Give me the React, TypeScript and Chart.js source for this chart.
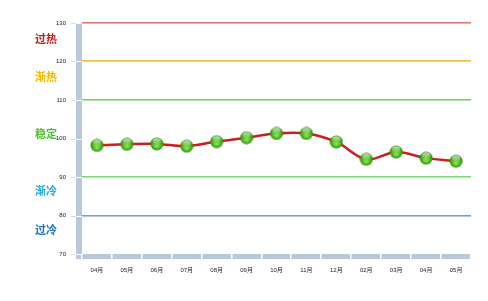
import React, { useEffect, useRef } from "react";
import { Chart, registerables } from "chart.js";

Chart.register(...registerables);

const categories = ["04月", "05月", "06月", "07月", "08月", "09月", "10月", "11月", "12月", "02月", "03月", "04月", "05月"];
const values = [98.2, 98.5, 98.6, 98.0, 99.2, 100.2, 101.3, 101.3, 99.1, 94.6, 96.5, 94.9, 94.1];

const yMin = 70;
const yMax = 130;
const yStep = 10;

const levelValues = [130, 120, 110, 90, 80];
const levelColors = ["#e07272", "#f7c041", "#6fd44f", "#7fd87a", "#5ea6e0"];
const levelUnderColors = ["#f0b0b0", "#f8c8b0", "#b0e8a0", "#a8e4f4", "#a8cce8"];

const zoneLabels = ["过热", "渐热", "稳定", "渐冷", "过冷"];
const zoneValues = [126, 116, 101.3, 86.3, 76.4];
const zoneColors = ["#d01818", "#f5b800", "#50c030", "#20a8e8", "#2070c0"];

function makeSphere(): HTMLCanvasElement {
  const c = document.createElement("canvas");
  c.width = 14;
  c.height = 14;
  const g = c.getContext("2d")!;
  const grad = g.createRadialGradient(7, 9, 0.5, 7, 7, 7);
  grad.addColorStop(0, "#8ee05a");
  grad.addColorStop(0.55, "#4cb81e");
  grad.addColorStop(1, "#2a8008");
  g.beginPath();
  g.arc(7, 7, 6.5, 0, Math.PI * 2);
  g.fillStyle = grad;
  g.fill();
  const hi = g.createLinearGradient(0, 1, 0, 7);
  hi.addColorStop(0, "rgba(255,255,255,0.75)");
  hi.addColorStop(1, "rgba(255,255,255,0.05)");
  g.beginPath();
  g.ellipse(7, 4.2, 4.2, 3, 0, 0, Math.PI * 2);
  g.fillStyle = hi;
  g.fill();
  return c;
}

const decorPlugin = {
  id: "decor",
  beforeDatasetsDraw(chart: any) {
    const { ctx, chartArea } = chart;
    const y = chart.scales.y;
    const bandColor = "#b9c9db";
    ctx.save();
    levelValues.forEach((v, i) => {
      const py = Math.round(y.getPixelForValue(v));
      ctx.fillStyle = levelColors[i];
      ctx.fillRect(chartArea.left, py - 1, chartArea.right - chartArea.left, 1);
      ctx.fillStyle = levelUnderColors[i];
      ctx.fillRect(chartArea.left, py, chartArea.right - chartArea.left, 1);
    });
    const bandL = chartArea.left - 6;
    const bottom = Math.round(y.getPixelForValue(yMin));
    ctx.fillStyle = bandColor;
    ctx.fillRect(bandL, chartArea.top, 6, bottom - chartArea.top + 5);
    ctx.fillRect(bandL, bottom, chartArea.right - bandL, 5);
    for (let v = yMin; v <= yMax; v += yStep) {
      const py = Math.round(y.getPixelForValue(v));
      ctx.fillStyle = "#d3dce8";
      ctx.fillRect(bandL - 5, py, 5, 1);
      ctx.fillStyle = "#ffffff";
      ctx.fillRect(bandL, py, 6, 1);
    }
    const n = categories.length;
    const w = (chartArea.right - chartArea.left) / n;
    ctx.fillStyle = "#ffffff";
    for (let i = 0; i <= n; i++) {
      const px = Math.round(chartArea.left + i * w);
      ctx.fillRect(px - 1, bottom, 1.5, 5);
    }
    ctx.font = "bold 11px 'Noto Sans CJK SC', sans-serif";
    ctx.textAlign = "center";
    ctx.textBaseline = "middle";
    zoneLabels.forEach((t, i) => {
      ctx.fillStyle = zoneColors[i];
      ctx.fillText(t, 46, y.getPixelForValue(zoneValues[i]));
    });
    ctx.restore();
  },
};

export default function App() {
  const ref = useRef<HTMLCanvasElement | null>(null);
  useEffect(() => {
    if (!ref.current) return;
    const sphere = makeSphere();
    const chart = new Chart(ref.current, {
      type: "line",
      data: {
        labels: categories,
        datasets: [
          {
            data: values,
            borderColor: "#c8201e",
            borderWidth: 2.5,
            tension: 0.35,
            pointStyle: sphere as any,
            pointRadius: 7,
            pointHoverRadius: 7,
          },
        ],
      },
      options: {
        animation: false,
        responsive: false,
        devicePixelRatio: 1,
        layout: { padding: { left: 0, right: 17, top: 23, bottom: 0 } },
        plugins: { legend: { display: false }, tooltip: { enabled: false } },
        scales: {
          x: {
            offset: true,
            grid: { display: false, drawTicks: false },
            border: { display: false },
            ticks: { font: { size: 6, family: "Arial, 'Noto Sans CJK SC'" }, color: "#222", padding: 13, maxRotation: 0, autoSkip: false },
            afterFit: (s: any) => {
              s.height = 47;
            },
          },
          y: {
            min: yMin,
            max: yMax,
            ticks: { stepSize: yStep, font: { size: 6, family: "Arial" }, color: "#222", padding: 16 },
            grid: { display: false, drawTicks: false },
            border: { display: false },
            afterFit: (s: any) => {
              s.width = 82;
            },
          },
        },
      },
      plugins: [decorPlugin],
    });
    return () => chart.destroy();
  }, []);
  return (
    <div style={{ position: "absolute", left: 0, top: 0, width: 488, height: 301, background: "#fff" }}>
      <canvas ref={ref} width={488} height={301} />
    </div>
  );
}
